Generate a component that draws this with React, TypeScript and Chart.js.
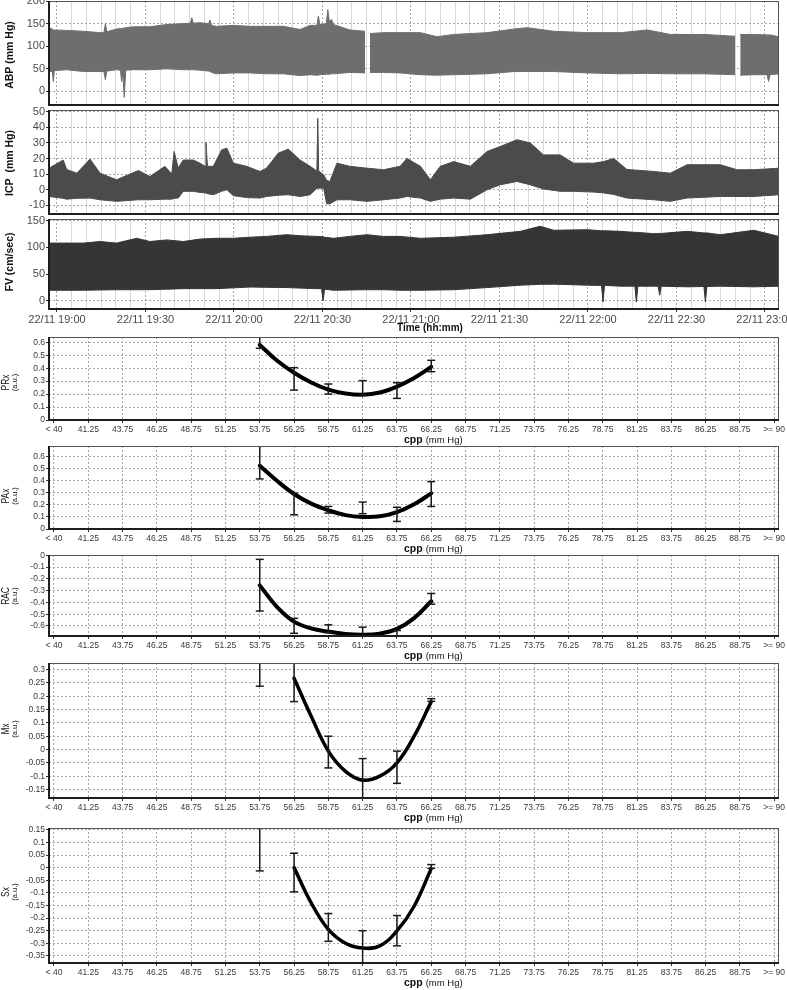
import React, { useEffect, useRef } from "react";
import { Chart, registerables } from "chart.js";

Chart.register(...registerables);

const FONT = "'Liberation Sans', Arial, sans-serif";
const PAGE_W = 787;
const PLOT_LEFT = 49;
const PLOT_RIGHT = 779;

// ---------------- time axis (minutes after 19:00) ----------------
const T_MIN = -2.71;
const T_MAX = 244.75;
const TIME_TICKS = [0, 5, 10, 15, 20, 25, 30, 35, 40, 45, 50, 55, 60, 65, 70, 75, 80, 85, 90, 95, 100, 105, 110, 115, 120, 125, 130, 135, 140, 145, 150, 155, 160, 165, 170, 175, 180, 185, 190, 195, 200, 205, 210, 215, 220, 225, 230, 235, 240];
const TIME_LABEL_MIN = [0, 30, 60, 90, 120, 150, 180, 210, 240];
const TIME_LABELS = ["22/11 19:00", "22/11 19:30", "22/11 20:00", "22/11 20:30", "22/11 21:00", "22/11 21:30", "22/11 22:00", "22/11 22:30", "22/11 23:00"];

// ---------------- ABP envelope ----------------
const ABP_TIME = [-2.7, -1.6, -1.25, -0.9, 3.3, 9, 14.6, 15.9, 16.4, 16.9, 20.2, 21.5, 21.9, 22.3, 22.8, 23.3, 25.9, 31.5, 37.2, 42.8, 45.2, 45.7, 46.2, 48.5, 51.4, 51.9, 52.4, 54, 59.8, 65.4, 71, 76.8, 82.4, 85.8, 88.1, 88.6, 89.1, 91.3, 91.8, 92.3, 93.1, 93.7, 99.3, 104.4, 105.2, 106.1, 110.7, 116.3, 123.2, 128.8, 134.5, 145.8, 154.9, 159.4, 168.5, 179.8, 191.1, 200.1, 208, 219.3, 229.9, 230.8, 231.6, 236.2, 240.7, 241.2, 241.7, 244.75];
const ABP_HIGH = [141, 138, 136, 136, 135, 133, 130, 130, 150, 132, 138, 139, 139, 140, 140, 141, 143, 143, 148, 150, 151, 163, 151, 152, 150, 158, 146, 144, 146, 144, 144, 144, 137, 146, 146, 167, 148, 150, 181, 155, 159, 148, 136, 133, null, 128, 130, 130, 130, 121, 126, 130, 138, 141, 133, 130, 130, 136, 126, 126, 122, null, 126, 126, 125, 125, 125, 121];
const ABP_LOW = [44, 44, 22, 46, 48, 44, 44, 44, 26, 45, 48, 47, 22, 40, -13, 47, 48, 48, 50, 48, 48, 48, 48, 47, 45, 44, 42, 39, 41, 41, 39, 39, 35, 37, 36, 36, 37, 38, 38, 38, 39, 39, 42, 41, null, 42, 42, 41, 37, 36, 37, 39, 44, 44, 44, 41, 39, 40, 39, 39, 37, null, 36, 37, 37, 22, 37, 39];
const ABP_YTICKS = [0, 50, 100, 150, 200];

// ---------------- ICP envelope ----------------
const ICP_TIME = [-2.7, 2.1, 3.3, 6.7, 11.2, 14.6, 20.2, 27.6, 31.5, 36.6, 38.9, 39.7, 41.1, 42.8, 46.2, 48.5, 50.2, 50.5, 51, 53, 55.8, 57.6, 59.8, 64.3, 68.8, 71, 75, 78.4, 82.4, 85.8, 88.1, 88.4, 88.7, 90.4, 91.4, 92.5, 94.9, 99.3, 105.1, 110.7, 116.3, 118.6, 123.2, 126.6, 129.9, 134.5, 140.1, 145.8, 150.3, 155.9, 160.4, 164.9, 170.6, 175.1, 181.9, 185.3, 188.7, 193.2, 202.3, 207.9, 213.6, 224.9, 230.5, 236.2, 244.75];
const ICP_HIGH = [13.8, 19, 13, 10.6, 19.6, 10.6, 6.4, 12.3, 8.5, 15, 10, 24.5, 14, 19, 19, 17, 15, 30.2, 15, 15, 25.5, 26.6, 17, 15, 11.7, 13.8, 23.4, 26, 19, 15, 12, 45.7, 12, 9.6, 6, 5.3, 17, 15, 13.8, 12.8, 15, 20, 15, 6.4, 15, 18, 15, 24.5, 27.7, 32, 30, 22.3, 22.3, 17, 17, 18, 20, 13, 11.7, 10.6, 16, 16, 12.8, 12.8, 13.8];
const ICP_LOW = [-4.3, -5.5, -6, -5.5, -5.3, -6.4, -7.4, -6.4, -6.4, -6, -6, -5.5, -5.3, -1, -1, -1.7, -2, -2, -2.5, -3.2, -1, 0, -3.8, -5, -5.3, -4.3, -3.5, -3.2, -4.3, -3.2, 1, 1, 1, 1, -9, -9, -6.4, -6.4, -7.4, -6.4, -5.3, -4.3, -5.3, -7.4, -6, -5.3, -6, 0, 3.2, 5.3, 3.2, 0.5, -1, -1, -1.5, -2, -3, -5.3, -6.4, -7.4, -5.3, -4.3, -4.3, -4.3, -3.2];
const ICP_YTICKS = [-10, 0, 10, 20, 30, 40, 50];

// ---------------- FV envelope ----------------
const FV_TIME = [-2.7, 9, 14.6, 20.2, 27, 31.5, 37.2, 42.8, 48.5, 54, 59.8, 65.4, 71, 77.9, 82.4, 88.1, 89.7, 90.2, 90.7, 93.7, 99.3, 105, 110.7, 116.3, 123.2, 134.5, 145.8, 157.1, 163.8, 168.4, 179.8, 184.6, 185.1, 185.6, 191, 195.9, 196.4, 196.9, 202.3, 203.8, 204.3, 204.8, 213.6, 219.3, 219.8, 220.3, 224.9, 236.2, 244.75];
const FV_HIGH = [108, 108, 111, 108, 117, 111, 114, 111, 115.5, 117, 117, 119, 120.5, 123.7, 121.8, 120.5, 120, 120, 119, 117, 120.5, 123.7, 120.5, 120.5, 117, 119, 123.7, 130, 139.4, 132, 133, 131, 131, 131, 130, 128, 128, 128, 125.5, 126, 126, 126, 130, 127, 127, 127, 123.7, 132, 120.5];
const FV_LOW = [20, 20, 20.5, 21, 21, 21, 22, 23, 23, 23, 24.5, 26, 25.5, 25, 24, 23, 23, 0, 22, 20, 20.5, 21, 21, 20, 20, 21, 25, 29.5, 31, 31.4, 29.5, 29, -2, 29, 27.6, 27.6, -2, 27.6, 27.6, 27.6, 10.7, 27.6, 26.4, 27, -2, 27, 27.6, 26.4, 27.6];
const FV_YTICKS = [0, 50, 100, 150];

// ---------------- CPP axis ----------------
const CPP_MIN = 38.386;
const CPP_MAX = 91.6;
const CPP_TICKS = [38.75, 41.25, 43.75, 46.25, 48.75, 51.25, 53.75, 56.25, 58.75, 61.25, 63.75, 66.25, 68.75, 71.25, 73.75, 76.25, 78.75, 81.25, 83.75, 86.25, 88.75, 91.25];
const CPP_LABELS = ["< 40", "41.25", "43.75", "46.25", "48.75", "51.25", "53.75", "56.25", "58.75", "61.25", "63.75", "66.25", "68.75", "71.25", "73.75", "76.25", "78.75", "81.25", "83.75", "86.25", "88.75", ">= 90"];
const BIN_CPP = [53.75, 56.25, 58.75, 61.25, 63.75, 66.25];
const FIT_CPP = [53.75, 55, 56.25, 57.5, 58.75, 60, 61.25, 62.5, 63.75, 65, 66.25];
const FIT_CPP_SHORT = [56.25, 57.5, 58.75, 60, 61.25, 62.5, 63.75, 65, 66.25];

// PRx
const PRX_LOW = [0.554, 0.231, 0.2, 0.193, 0.167, 0.373];
const PRX_HIGH = [0.72, 0.404, 0.278, 0.304, 0.288, 0.461];
const PRX_FIT = [0.58, 0.46, 0.365, 0.29, 0.235, 0.205, 0.195, 0.212, 0.258, 0.325, 0.41];
const PRX_YTICKS = [0, 0.1, 0.2, 0.3, 0.4, 0.5, 0.6];
// PAx
const PAX_LOW = [0.415, 0.118, 0.132, 0.127, 0.063, 0.187];
const PAX_HIGH = [0.75, 0.297, 0.187, 0.223, 0.18, 0.393];
const PAX_FIT = [0.525, 0.4, 0.29, 0.21, 0.155, 0.115, 0.1, 0.105, 0.14, 0.205, 0.295];
const PAX_YTICKS = [0, 0.1, 0.2, 0.3, 0.4, 0.5, 0.6];
// RAC
const RAC_LOW = [-0.473, -0.662, -0.656, -0.72, -0.72, -0.415];
const RAC_HIGH = [-0.034, -0.535, -0.59, -0.61, -0.638, -0.324];
const RAC_FIT = [-0.255, -0.437, -0.563, -0.62, -0.648, -0.668, -0.675, -0.665, -0.625, -0.533, -0.39];
const RAC_YTICKS = [-0.6, -0.5, -0.4, -0.3, -0.2, -0.1, 0];
// Mx
const MX_LOW = [0.238, 0.18, -0.069, -0.22, -0.127, 0.181];
const MX_HIGH = [0.36, 0.36, 0.05, -0.034, -0.006, 0.191];
const MX_FIT = [0.268, 0.125, -0.006, -0.082, -0.115, -0.1, -0.05, 0.05, 0.18];
const MX_YTICKS = [-0.15, -0.1, -0.05, 0, 0.05, 0.1, 0.15, 0.2, 0.25, 0.3];
// Sx
const SX_LOW = [-0.013, -0.096, -0.292, -0.42, -0.31, -0.003];
const SX_HIGH = [0.2, 0.057, -0.182, -0.25, -0.19, 0.012];
const SX_FIT = [0.0, -0.14, -0.245, -0.3, -0.319, -0.31, -0.251, -0.153, -0.004];
const SX_YTICKS = [-0.35, -0.3, -0.25, -0.2, -0.15, -0.1, -0.05, 0, 0.05, 0.1, 0.15];

// ---------------- helpers ----------------
type Geo = { top: number; bottom: number; padT: number; padB: number };

function rotText(ctx: any, text: string, x: number, y: number, font: string, sx = 1) {
  ctx.save();
  ctx.translate(x, y);
  ctx.rotate(-Math.PI / 2);
  ctx.scale(sx, 1);
  ctx.font = font;
  ctx.fillStyle = "#111";
  ctx.textAlign = "center";
  ctx.textBaseline = "middle";
  ctx.fillText(text, 0, 0);
  ctx.restore();
}

function decorPlugin(geo: Geo, draw: (ctx: any, a: any, toY: (y: number) => number) => void) {
  const offset = geo.top - geo.padT;
  return {
    id: "decor",
    afterDraw(chart: any) {
      const ctx = chart.ctx;
      const a = chart.chartArea;
      ctx.save();
      ctx.setLineDash([]);
      ctx.strokeStyle = "#555";
      ctx.lineWidth = 1;
      ctx.strokeRect(a.left + 0.5, a.top + 0.5, a.right - a.left - 1, a.bottom - a.top - 1);
      ctx.strokeStyle = "#1e1e1e";
      ctx.lineWidth = 2;
      ctx.beginPath();
      ctx.moveTo(a.left, a.top);
      ctx.lineTo(a.left, a.bottom);
      ctx.lineTo(a.right, a.bottom);
      ctx.stroke();
      draw(ctx, a, (y: number) => y - offset);
      ctx.restore();
    },
  };
}

function baseOptions(geo: Geo, scales: any) {
  return {
    animation: false,
    responsive: false,
    devicePixelRatio: 1,
    events: [],
    layout: { padding: { top: geo.padT, left: 0, right: PAGE_W - PLOT_RIGHT, bottom: 0 } },
    plugins: { legend: { display: false }, tooltip: { enabled: false }, title: { display: false } },
    scales,
  };
}

function valueScale(min: number, max: number, ticks: number[], size: number, color: string) {
  return {
    type: "linear",
    min,
    max,
    afterBuildTicks: (s: any) => {
      s.ticks = ticks.map((v) => ({ value: v }));
    },
    afterFit: (s: any) => {
      s.width = PLOT_LEFT;
      s.paddingTop = 0;
      s.paddingBottom = 0;
    },
    ticks: { autoSkip: false, padding: 1, color, font: { family: FONT, size }, callback: (v: number) => String(v) },
    grid: { color: "#a6a6a6", lineWidth: 1, tickLength: 3, tickColor: "#333", tickBorderDash: [] },
    border: { display: false, dash: [2, 2] },
  };
}

function timeScale(geo: Geo, showLabels: boolean) {
  const major = (c: any) => !!c.tick && c.tick.value % 30 === 0;
  return {
    type: "linear",
    min: T_MIN,
    max: T_MAX,
    afterBuildTicks: (s: any) => {
      s.ticks = TIME_TICKS.map((v) => ({ value: v }));
    },
    afterFit: (s: any) => {
      s.height = geo.padB;
      s.paddingLeft = 0;
      s.paddingRight = 0;
    },
    ticks: {
      display: showLabels,
      autoSkip: false,
      maxRotation: 0,
      minRotation: 0,
      padding: 1,
      color: "#4a4a4a",
      font: { family: FONT, size: 11 },
      callback: (v: number) => {
        const k = TIME_LABEL_MIN.indexOf(v);
        return k >= 0 ? TIME_LABELS[k] : "";
      },
    },
    grid: {
      color: (c: any) => (major(c) ? "#a3a3a3" : "#d8d8d8"),
      lineWidth: 1,
      drawTicks: showLabels,
      tickLength: 3,
      tickColor: (c: any) => (major(c) ? "#333" : "rgba(0,0,0,0)"),
      tickBorderDash: [],
    },
    border: { display: false, dash: (c: any) => (major(c) ? [2, 2] : []) },
  };
}

function cppScale(geo: Geo) {
  return {
    type: "linear",
    min: CPP_MIN,
    max: CPP_MAX,
    afterBuildTicks: (s: any) => {
      s.ticks = CPP_TICKS.map((v) => ({ value: v }));
    },
    afterFit: (s: any) => {
      s.height = geo.padB;
      s.paddingLeft = 0;
      s.paddingRight = 0;
    },
    ticks: {
      autoSkip: false,
      maxRotation: 0,
      minRotation: 0,
      padding: 2,
      color: "#3a3a3a",
      font: { family: FONT, size: 8.5 },
      callback: (_v: number, i: number) => CPP_LABELS[i],
    },
    grid: { color: "#a6a6a6", lineWidth: 1, tickLength: 3, tickColor: "#333", tickBorderDash: [] },
    border: { display: false, dash: [2, 2] },
  };
}

type TopSpec = {
  geo: Geo;
  min: number;
  max: number;
  yTicks: number[];
  time: number[];
  high: (number | null)[];
  low: (number | null)[];
  color: string;
  title: string;
  titleY: number;
  showTime: boolean;
};

function topConfig(p: TopSpec) {
  return {
    type: "line",
    data: {
      datasets: [
        {
          data: p.time.map((t, i) => ({ x: t, y: p.high[i] })),
          borderColor: p.color,
          backgroundColor: p.color,
          borderWidth: 1,
          pointRadius: 0,
          tension: 0,
          fill: "+1",
          spanGaps: false,
        },
        {
          data: p.time.map((t, i) => ({ x: t, y: p.low[i] })),
          borderColor: p.color,
          borderWidth: 1,
          pointRadius: 0,
          tension: 0,
          fill: false,
          spanGaps: false,
        },
      ],
    },
    options: baseOptions(p.geo, {
      x: timeScale(p.geo, p.showTime),
      y: valueScale(p.min, p.max, p.yTicks, 11, "#4a4a4a"),
    }),
    plugins: [
      decorPlugin(p.geo, (ctx, a, toY) => {
        rotText(ctx, p.title, 10, toY(p.titleY), `bold 10.5px ${FONT}`);
        if (p.showTime) {
          ctx.font = `bold 10px ${FONT}`;
          ctx.fillStyle = "#111";
          ctx.textAlign = "left";
          ctx.textBaseline = "middle";
          ctx.fillText("Time (hh:mm)", 397, toY(328));
        }
      }),
    ],
  };
}

type LowSpec = {
  geo: Geo;
  min: number;
  max: number;
  yTicks: number[];
  low: number[];
  high: number[];
  fitX: number[];
  fit: number[];
  fitWidth: number;
  title: string;
  titleY: number;
};

function lowConfig(p: LowSpec) {
  const whiskers: any[] = [];
  const caps: any[] = [];
  BIN_CPP.forEach((x, i) => {
    whiskers.push({ x, y: p.low[i] }, { x, y: p.high[i] }, { x, y: null });
    caps.push({ x, y: p.low[i] }, { x, y: p.high[i] });
  });
  return {
    type: "line",
    data: {
      datasets: [
        { data: whiskers, borderColor: "#1a1a1a", borderWidth: 1.5, pointRadius: 0, spanGaps: false, fill: false },
        {
          data: caps,
          showLine: false,
          pointStyle: "line",
          pointRadius: 4,
          pointBorderWidth: 1.5,
          pointBorderColor: "#1a1a1a",
          pointBackgroundColor: "#1a1a1a",
          fill: false,
        },
        {
          data: p.fitX.map((x, i) => ({ x, y: p.fit[i] })),
          borderColor: "#000",
          borderWidth: p.fitWidth,
          pointRadius: 0,
          tension: 0.4,
          fill: false,
          borderCapStyle: "round",
        },
      ],
    },
    options: baseOptions(p.geo, {
      x: cppScale(p.geo),
      y: valueScale(p.min, p.max, p.yTicks, 8.5, "#3a3a3a"),
    }),
    plugins: [
      decorPlugin(p.geo, (ctx, a, toY) => {
        rotText(ctx, p.title, 6.5, toY(p.titleY), `10.5px ${FONT}`, 0.8);
        rotText(ctx, "(a.u.)", 15, toY(p.titleY), `7.5px ${FONT}`);
        ctx.fillStyle = "#111";
        ctx.textAlign = "left";
        ctx.textBaseline = "middle";
        ctx.font = `bold 10.5px ${FONT}`;
        const yT = a.bottom + 20;
        ctx.fillText("cpp", 404, yT);
        const w = ctx.measureText("cpp").width;
        ctx.font = `9.5px ${FONT}`;
        ctx.fillText("(mm Hg)", 404 + w + 3, yT + 0.5);
      }),
    ],
  };
}

function ChartCanvas({ geo, config }: { geo: Geo; config: () => any }) {
  const ref = useRef<HTMLCanvasElement | null>(null);
  const h = geo.bottom - geo.top + geo.padT + geo.padB;
  useEffect(() => {
    const chart = new Chart(ref.current as HTMLCanvasElement, config());
    return () => chart.destroy();
  }, []);
  return (
    <canvas
      ref={ref}
      width={PAGE_W}
      height={h}
      style={{ position: "absolute", left: 0, top: geo.top - geo.padT, width: PAGE_W, height: h }}
    />
  );
}

const GEO_ABP: Geo = { top: 1, bottom: 105, padT: 6, padB: 4 };
const GEO_ICP: Geo = { top: 110, bottom: 214, padT: 6, padB: 4 };
const GEO_FV: Geo = { top: 219, bottom: 309, padT: 6, padB: 26 };
const GEO_PRX: Geo = { top: 337, bottom: 420, padT: 6, padB: 28 };
const GEO_PAX: Geo = { top: 446, bottom: 529, padT: 6, padB: 28 };
const GEO_RAC: Geo = { top: 555, bottom: 636, padT: 6, padB: 28 };
const GEO_MX: Geo = { top: 663, bottom: 798, padT: 6, padB: 28 };
const GEO_SX: Geo = { top: 828, bottom: 963, padT: 6, padB: 27 };

export default function App() {
  return (
    <div style={{ position: "absolute", left: 0, top: 0, width: PAGE_W, height: 990, background: "#fff", overflow: "hidden" }}>
      <ChartCanvas
        geo={GEO_ABP}
        config={() =>
          topConfig({ geo: GEO_ABP, min: -30, max: 200, yTicks: ABP_YTICKS, time: ABP_TIME, high: ABP_HIGH, low: ABP_LOW, color: "#6e6e6e", title: "ABP (mm Hg)", titleY: 55, showTime: false })
        }
      />
      <ChartCanvas
        geo={GEO_ICP}
        config={() =>
          topConfig({ geo: GEO_ICP, min: -15.5, max: 51, yTicks: ICP_YTICKS, time: ICP_TIME, high: ICP_HIGH, low: ICP_LOW, color: "#4b4b4b", title: "ICP  (mm Hg)", titleY: 163, showTime: false })
        }
      />
      <ChartCanvas
        geo={GEO_FV}
        config={() =>
          topConfig({ geo: GEO_FV, min: -15, max: 153, yTicks: FV_YTICKS, time: FV_TIME, high: FV_HIGH, low: FV_LOW, color: "#353535", title: "FV (cm/sec)", titleY: 262, showTime: true })
        }
      />
      <ChartCanvas
        geo={GEO_PRX}
        config={() => lowConfig({ geo: GEO_PRX, min: 0, max: 0.641, yTicks: PRX_YTICKS, low: PRX_LOW, high: PRX_HIGH, fitX: FIT_CPP, fit: PRX_FIT, fitWidth: 4, title: "PRx", titleY: 382.5 })}
      />
      <ChartCanvas
        geo={GEO_PAX}
        config={() => lowConfig({ geo: GEO_PAX, min: 0, max: 0.688, yTicks: PAX_YTICKS, low: PAX_LOW, high: PAX_HIGH, fitX: FIT_CPP, fit: PAX_FIT, fitWidth: 4, title: "PAx", titleY: 496 })}
      />
      <ChartCanvas
        geo={GEO_RAC}
        config={() => lowConfig({ geo: GEO_RAC, min: -0.685, max: 0.003, yTicks: RAC_YTICKS, low: RAC_LOW, high: RAC_HIGH, fitX: FIT_CPP, fit: RAC_FIT, fitWidth: 4, title: "RAC", titleY: 596 })}
      />
      <ChartCanvas
        geo={GEO_MX}
        config={() => lowConfig({ geo: GEO_MX, min: -0.182, max: 0.325, yTicks: MX_YTICKS, low: MX_LOW, high: MX_HIGH, fitX: FIT_CPP_SHORT, fit: MX_FIT, fitWidth: 3.5, title: "Mx", titleY: 729 })}
      />
      <ChartCanvas
        geo={GEO_SX}
        config={() => lowConfig({ geo: GEO_SX, min: -0.378, max: 0.157, yTicks: SX_YTICKS, low: SX_LOW, high: SX_HIGH, fitX: FIT_CPP_SHORT, fit: SX_FIT, fitWidth: 3.5, title: "Sx", titleY: 892 })}
      />
    </div>
  );
}
